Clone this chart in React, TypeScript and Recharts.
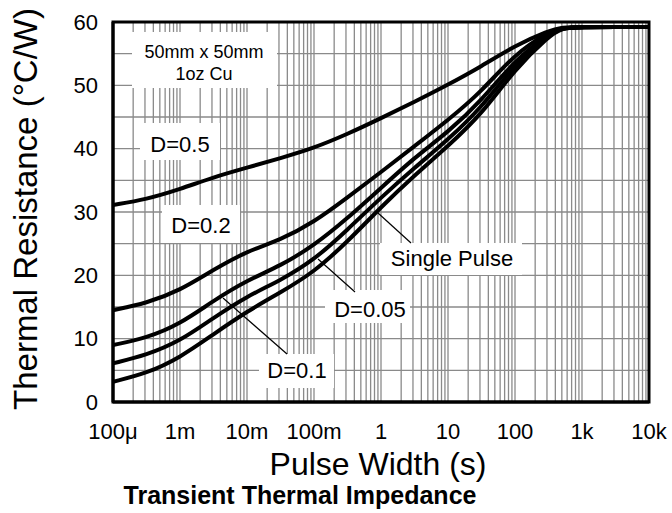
import React from "react";
import {
  LineChart,
  Line,
  XAxis,
  YAxis,
  CartesianGrid,
  ReferenceArea,
} from "recharts";

// pulse width (s), half-decade steps plus one near the knee
const pulseWidth = [
  1e-4, 3.16e-4, 1e-3, 3.16e-3, 1e-2, 3.16e-2, 0.1, 0.316, 1, 3.16, 10, 31.6,
  100, 316, 500, 1000, 3160, 10000,
];

// thermal resistance (°C/W)
const duty05 = [31.1, 32.0, 33.6, 35.5, 37.0, 38.5, 40.1, 42.3, 44.8, 47.4, 50.1, 53.0, 56.3, 58.6, 59.2, 59.2, 59.2, 59.2];
const duty02 = [14.5, 15.6, 17.6, 20.9, 23.8, 25.6, 28.4, 32.3, 36.3, 40.4, 44.5, 49.0, 55.0, 58.4, 59.1, 59.2, 59.2, 59.2];
const duty01 = [9.0, 10.1, 12.3, 16.0, 19.2, 21.5, 24.7, 29.0, 33.8, 38.6, 42.6, 47.6, 54.0, 58.1, 59.1, 59.2, 59.2, 59.2];
const duty005 = [6.1, 7.4, 9.6, 13.3, 16.7, 19.2, 22.4, 27.2, 32.3, 37.0, 41.4, 46.5, 53.3, 57.9, 59.1, 59.2, 59.2, 59.2];
const singlePulse = [3.2, 4.5, 7.0, 10.7, 14.3, 17.3, 20.5, 25.3, 30.8, 35.8, 40.4, 45.4, 52.6, 57.7, 59.1, 59.2, 59.2, 59.2];

const decades = [1e-4, 1e-3, 1e-2, 1e-1, 1, 10, 100, 1000, 10000];
const decadeLabels = ["100μ", "1m", "10m", "100m", "1", "10", "100", "1k", "10k"];
const yTicks = [0, 5, 10, 15, 20, 25, 30, 35, 40, 45, 50, 55, 60];

const data = pulseWidth.map((t, i) => ({
  t,
  d05: duty05[i],
  d02: duty02[i],
  d01: duty01[i],
  d005: duty005[i],
  sp: singlePulse[i],
}));

// minor log grid: 1..9 in every decade
const xTicks: number[] = [];
decades.forEach((d, i) => {
  if (i === decades.length - 1) {
    xTicks.push(d);
    return;
  }
  for (let m = 1; m < 10; m++) xTicks.push(Number((m * d).toPrecision(4)));
});

const fmtX = (v: number) => {
  const idx = decades.findIndex((d) => Math.abs(d - v) / d < 1e-6);
  return idx >= 0 ? decadeLabels[idx] : "";
};

const FONT = "'Liberation Sans', Arial, sans-serif";

const notes = [
  { text: "D=0.5", box: [140, 123, 80, 37], x: 180, y: 152 },
  { text: "D=0.2", box: [162, 205, 78, 38], x: 201, y: 233 },
  { text: "D=0.05", box: [325, 290, 85, 33], x: 370, y: 317 },
  { text: "D=0.1", box: [259, 354, 75, 34], x: 297, y: 378 },
  { text: "Single Pulse", box: [380, 243, 142, 32], x: 452, y: 266 },
];

const pointers = [
  [378, 213, 411, 243],
  [318, 259, 355, 292],
  [223, 298, 287, 354],
];

const lineProps = {
  type: "basis" as const,
  stroke: "#000",
  strokeWidth: 4,
  dot: false,
  isAnimationActive: false,
};

export default function App() {
  return (
    <div
      style={{
        position: "absolute",
        left: 0,
        top: 0,
        width: 672,
        height: 513,
        background: "#fff",
        fontFamily: FONT,
      }}
    >
      <LineChart
        width={672}
        height={513}
        data={data}
        margin={{ top: 22, right: 23, bottom: 81, left: 53 }}
      >
        <CartesianGrid stroke="#8a8a8a" strokeWidth={1.3} />
        <XAxis
          dataKey="t"
          type="number"
          scale="log"
          domain={[1e-4, 1e4]}
          allowDataOverflow
          ticks={xTicks}
          interval={0}
          tickFormatter={fmtX}
          tickLine={false}
          tickSize={0}
          tickMargin={21}
          height={30}
          axisLine={{ stroke: "#000", strokeWidth: 3 }}
          tick={{ fill: "#000", fontSize: 22, fontFamily: FONT }}
        />
        <YAxis
          type="number"
          domain={[0, 60]}
          ticks={yTicks}
          interval={0}
          tickFormatter={(v: number) => (v % 10 === 0 ? String(v) : "")}
          tickLine={false}
          tickSize={0}
          tickMargin={15}
          width={60}
          axisLine={{ stroke: "#000", strokeWidth: 3 }}
          tick={{ fill: "#000", fontSize: 22, fontFamily: FONT }}
        />
        <ReferenceArea
          x1={1e-4}
          x2={1e4}
          y1={0}
          y2={60}
          fill="none"
          stroke="#000"
          strokeWidth={3}
          ifOverflow="visible"
        />
        <Line dataKey="d05" {...lineProps} />
        <Line dataKey="d02" {...lineProps} />
        <Line dataKey="d01" {...lineProps} />
        <Line dataKey="d005" {...lineProps} />
        <Line dataKey="sp" {...lineProps} />
      </LineChart>

      <svg
        width={672}
        height={513}
        style={{ position: "absolute", left: 0, top: 0, pointerEvents: "none" }}
        fontFamily={FONT}
      >
        <rect x={132} y={32} width={145} height={56} fill="#fff" />
        <text x={204} y={58} textAnchor="middle" fontSize={18}>50mm x 50mm</text>
        <text x={204} y={80} textAnchor="middle" fontSize={18}>1oz Cu</text>

        {notes.map((n) => (
          <g key={n.text}>
            <rect x={n.box[0]} y={n.box[1]} width={n.box[2]} height={n.box[3]} fill="#fff" />
            <text x={n.x} y={n.y} textAnchor="middle" fontSize={22}>{n.text}</text>
          </g>
        ))}
        {pointers.map((p, i) => (
          <line key={i} x1={p[0]} y1={p[1]} x2={p[2]} y2={p[3]} stroke="#000" strokeWidth={1.2} />
        ))}

        <text
          transform="translate(37,209) rotate(-90)"
          textAnchor="middle"
          fontSize={33}
        >
          Thermal Resistance (°C/W)
        </text>
        <text x={378} y={475} textAnchor="middle" fontSize={32}>
          Pulse Width (s)
        </text>
        <text x={300} y={504} textAnchor="middle" fontSize={25} fontWeight="bold">
          Transient Thermal Impedance
        </text>
      </svg>
    </div>
  );
}
